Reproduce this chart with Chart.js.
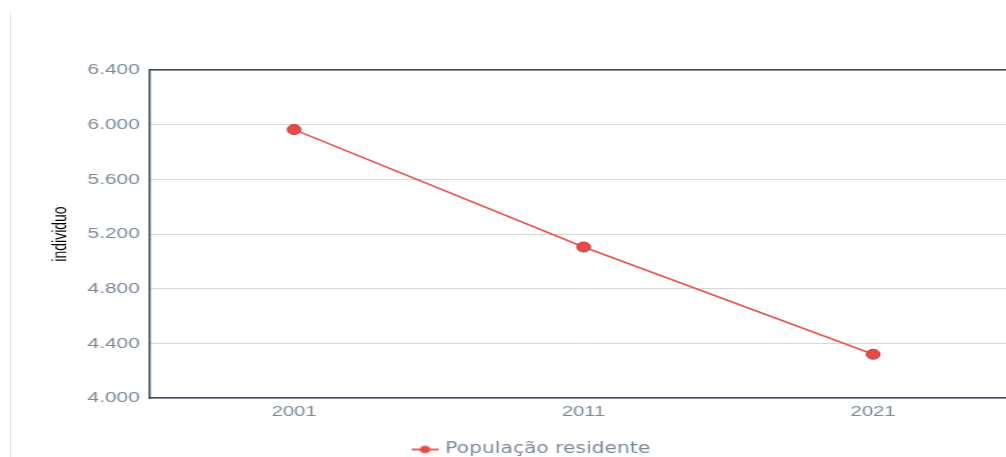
<!DOCTYPE html>
<html>
<head>
<meta charset="utf-8">
<script src="https://cdn.jsdelivr.net/npm/chart.js@4.4.1/dist/chart.umd.min.js"></script>
<style>
  html, body { margin: 0; padding: 0; background: #fff; overflow: hidden; width: 1006px; height: 457px; }
  #edge { position: absolute; left: 10px; top: 12px; width: 1px; height: 460px; background: #e6e6e6; }
  #wrap { position: absolute; left: 0; top: 0; width: 770px; height: 467px; transform: scaleX(1.35); transform-origin: 0 0; }
</style>
</head>
<body>
<div id="edge"></div>
<div id="wrap"><canvas id="popChart"></canvas></div>
<script>
const years = ['2001', '2011', '2021'];
const population = [5964, 5105, 4320];
const yTicks = [4000, 4400, 4800, 5200, 5600, 6000, 6400];
const seriesName = 'População residente';
const axisTitle = 'individuo';

const lineColor = '#e8524f';
const frameColor = '#3b4f63';
const tickColor = '#7d8a99';

// thousands with a dot, pt style
function fmt(v) {
    return String(v).replace(/\B(?=(\d{3})+(?!\d))/g, '.');
}

// legend symbol: short line with a dot on it
function legendSymbol() {
    const c = document.createElement('canvas');
    c.width = 20; c.height = 10;
    const g = c.getContext('2d');
    g.strokeStyle = lineColor;
    g.lineWidth = 1.8;
    g.beginPath(); g.moveTo(0, 5); g.lineTo(20, 5); g.stroke();
    g.fillStyle = '#e84a4a';
    g.beginPath(); g.arc(10, 5, 3.8, 0, Math.PI * 2); g.fill();
    return c;
}

function initChart() {
    const ctx = document.getElementById('popChart').getContext('2d');
    new Chart(ctx, {
        type: 'line',
        data: {
            labels: years,
            datasets: [{
                label: seriesName,
                data: population,
                borderColor: lineColor,
                borderWidth: 1.5,
                backgroundColor: '#e84a4a',
                pointBackgroundColor: '#e84a4a',
                pointBorderColor: '#c43c3c',
                pointBorderWidth: 1,
                pointRadius: 5,
                tension: 0
            }]
        },
        options: {
            responsive: true,
            maintainAspectRatio: false,
            animation: false,
            layout: { padding: { left: 35, right: 16, top: 70, bottom: 0 } },
            plugins: {
                legend: {
                    position: 'bottom',
                    labels: {
                        color: tickColor,
                        font: { family: 'DejaVu Sans', size: 15 },
                        usePointStyle: true,
                        pointStyle: legendSymbol(),
                        padding: 16
                    }
                },
                tooltip: { enabled: false }
            },
            scales: {
                x: {
                    offset: true,
                    grid: { display: false, drawTicks: false },
                    border: { display: true, color: frameColor, width: 1.5 },
                    ticks: { color: tickColor, font: { family: 'Liberation Sans', size: 15 }, padding: 5 }
                },
                xTop: {
                    position: 'top',
                    offset: true,
                    grid: { display: false, drawTicks: false },
                    border: { display: true, color: frameColor, width: 1.5 },
                    ticks: { display: false }
                },
                y: {
                    min: 4000,
                    max: 6400,
                    afterBuildTicks: axis => { axis.ticks = yTicks.map(v => ({ value: v })); },
                    grid: { color: '#d8d8d8', lineWidth: 1, drawTicks: false },
                    border: { display: true, color: frameColor, width: 1.5 },
                    ticks: {
                        color: tickColor,
                        font: { family: 'Liberation Sans', size: 15.5 },
                        padding: 7,
                        callback: v => fmt(v)
                    },
                    title: {
                        display: true,
                        text: axisTitle,
                        color: '#000',
                        font: { family: 'Liberation Sans', size: 14 },
                        padding: { top: 2, bottom: 4 }
                    }
                }
            }
        }
    });
}

document.addEventListener('DOMContentLoaded', initChart);
</script>
</body>
</html>
